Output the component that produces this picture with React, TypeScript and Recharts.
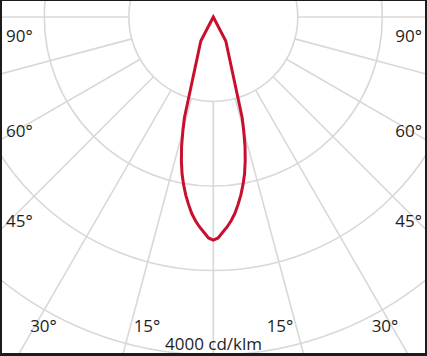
import React from 'react';
import { RadarChart, Radar, PolarGrid, PolarAngleAxis, PolarRadiusAxis } from 'recharts';

// Photometric data: gamma angle (deg, 0 = straight down) and intensity (cd/klm)
const gammaAngles = [
  -28, -27.5, -16, -15, -13.75, -12.5, -11.25, -10, -8.75, -7.5, -6.25, -5, -3.75, -2.5, -1.25,
  0, 1.25, 2.5, 3.75, 5, 6.25, 7.5, 8.75, 10, 11.25, 12.5, 13.75, 15, 16, 27.5,
];
const intensity = [
  0, 320, 1240, 1390, 1580, 1745, 1895, 2020, 2135, 2240, 2340, 2420, 2490, 2550, 2615,
  2640, 2615, 2550, 2490, 2420, 2340, 2240, 2135, 2020, 1895, 1745, 1580, 1390, 1240, 320,
];

const radiusDomain = [0, 4000];
const gridGammas = [-90, -75, -60, -45, -30, -15, 0, 15, 30, 45, 60, 75, 90];
const sideLabels = ['90°', '60°', '45°'];
const bottomLabels = ['30°', '15°', '15°', '30°'];
const unitLabel = '4000 cd/klm';

const data = gammaAngles.map((g, i) => ({ gamma: g, cd: intensity[i] }));

const W = 427;
const H = 356;
const CX = 213.3;
const CY = 17;
const OUTER = 338;
const RED = '#c8102e';
const GRID = '#d8d8d8';
const TEXT = '#1e1e1e';
const FONT = '"Open Sans", "Noto Sans", sans-serif';

const sideY = [42, 137, 227];
const bottomX = [43.5, 147, 280, 385];

export default function App() {
  const abs: React.CSSProperties = { position: 'absolute', left: 0, top: 0, width: W, height: H };
  const toChartAngle = (g: number) => g - 90;
  return (
    <div style={{ position: 'absolute', left: 0, top: 0, width: W, height: H, background: '#fff', overflow: 'hidden' }}>
      {/* radial grid lines, starting at the first ring */}
      <div style={abs}>
        <RadarChart
          width={W}
          height={H}
          data={data}
          cx={CX}
          cy={CY}
          innerRadius={OUTER / 4}
          outerRadius={560}
          startAngle={-270}
          endAngle={90}
          margin={{ top: 0, right: 0, bottom: 0, left: 0 }}
        >
          <PolarGrid
            gridType="circle"
            polarAngles={gridGammas.map(toChartAngle)}
            polarRadius={[]}
            stroke={GRID}
            strokeWidth={1.6}
          />
        </RadarChart>
      </div>
      {/* rings + light distribution curve */}
      <div style={abs}>
        <RadarChart
          width={W}
          height={H}
          data={data}
          cx={CX}
          cy={CY}
          innerRadius={0}
          outerRadius={OUTER}
          startAngle={-270}
          endAngle={90}
          margin={{ top: 0, right: 0, bottom: 0, left: 0 }}
        >
          <PolarGrid gridType="circle" radialLines={false} stroke={GRID} strokeWidth={1.6} />
          <PolarAngleAxis
            dataKey="gamma"
            type="number"
            scale="linear"
            domain={[-180, 180]}
            tick={false}
            axisLine={false}
          />
          <PolarRadiusAxis
            type="number"
            domain={radiusDomain}
            tickCount={5}
            tick={false}
            axisLine={false}
          />
          <Radar
            dataKey="cd"
            stroke={RED}
            strokeWidth={3}
            strokeLinejoin="miter"
            fill="none"
            dot={false}
            activeDot={false}
            isAnimationActive={false}
          />
        </RadarChart>
      </div>
      <svg style={{ ...abs, pointerEvents: 'none' }} width={W} height={H}>
        <g fontFamily={FONT} fontSize={17} fill={TEXT}>
          {sideLabels.map((t, i) => (
            <text key={'l' + i} x={6} y={sideY[i]} textAnchor="start">{t}</text>
          ))}
          {sideLabels.map((t, i) => (
            <text key={'r' + i} x={422} y={sideY[i]} textAnchor="end">{t}</text>
          ))}
          {bottomLabels.map((t, i) => (
            <text key={'b' + i} x={bottomX[i]} y={332} textAnchor="middle">{t}</text>
          ))}
          <text x={213.5} y={350} textAnchor="middle">{unitLabel}</text>
        </g>
      </svg>
      <div
        style={{
          ...abs,
          boxSizing: 'border-box',
          borderStyle: 'solid',
          borderColor: '#1c1c1c',
          borderWidth: '1px 2px 3px 2px',
          pointerEvents: 'none',
        }}
      />
    </div>
  );
}
